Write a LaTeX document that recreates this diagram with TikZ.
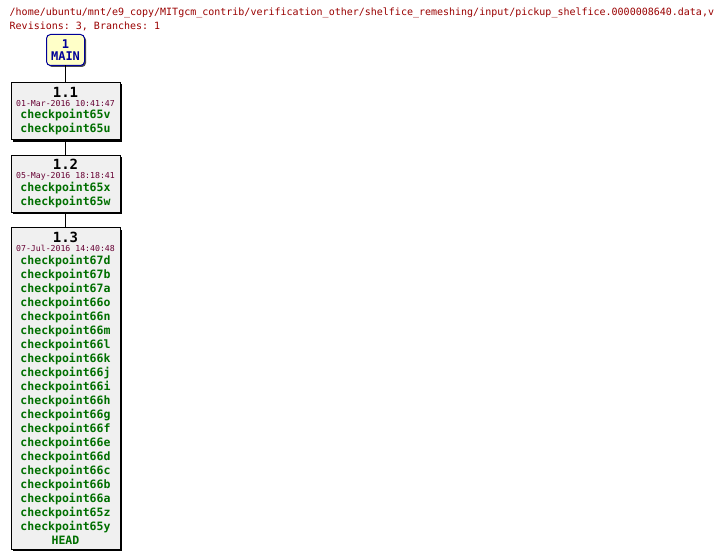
\documentclass[tikz,border=0pt]{standalone}
\usepackage{fontspec}
\setmonofont{DejaVu Sans Mono}
\usetikzlibrary{positioning}
\usetikzlibrary{shadows}

\definecolor{hdrred}{HTML}{990000}
\definecolor{datered}{HTML}{660033}
\definecolor{taggreen}{HTML}{006F00}
\definecolor{revgray}{HTML}{F0F0F0}
\definecolor{mainfill}{HTML}{FFFFC8}
\definecolor{mainblue}{HTML}{000099}

\newcommand{\revnum}[1]{{\bfseries\fontsize{14}{14}\selectfont #1}}
\newcommand{\revdate}[1]{{\fontsize{8.2}{8.2}\selectfont\color{datered}#1}}
\newcommand{\tagname}[1]{{\bfseries\color{taggreen}#1}}

\begin{document}
\begin{tikzpicture}[
      x=1pt, y=-1pt,
      node distance=15.5pt,
      revnode/.style={draw,fill=revgray,line width=1pt,minimum width=109pt,inner sep=0pt,outer sep=0pt,align=center,
        font=\ttfamily\fontsize{11.5}{14}\selectfont,
        drop shadow={shadow xshift=2pt,shadow yshift=-2pt,fill=black,opacity=1}},
      mainnode/.style={draw=mainblue,fill=mainfill,line width=1pt,rounded corners=4pt,minimum width=38pt,
        minimum height=31pt,inner sep=0pt,outer sep=0pt,align=center,text=mainblue,
        font=\ttfamily\bfseries\fontsize{12}{11.4}\selectfont,
        drop shadow={shadow xshift=1.5pt,shadow yshift=-1.5pt,fill=black!70,opacity=1}},
      hdrnode/.style={anchor=base west,inner sep=0pt,text=hdrred,font=\ttfamily\fontsize{10}{10}\selectfont},
      link/.style={line width=1pt}
      ]
      \useasboundingbox (0,0) rectangle (722,559);

      \node[hdrnode] (path) at (9.5,16) {/home/ubuntu/mnt/e9\_copy/MITgcm\_contrib/verification\_other/shelfice\_remeshing/input/pickup\_shelfice.0000008640.data,v};
      \node[hdrnode] (revs) at (9.5,29.3) {Revisions: 3, Branches: 1};

      \node[mainnode] (main) at (65.5,50) {1\\MAIN};
      \node[revnode, minimum height=57pt, below=17pt of main] (r11) {\revnum{1.1}\\[-5pt]
        \revdate{01-Mar-2016 10:41:47}\\[-1.5pt]
        \tagname{checkpoint65v}\\
        \tagname{checkpoint65u}};
      \node[revnode, minimum height=57pt, below=of r11] (r12) {\revnum{1.2}\\[-5pt]
        \revdate{05-May-2016 18:18:41}\\[-1.5pt]
        \tagname{checkpoint65x}\\
        \tagname{checkpoint65w}};
      \node[revnode, minimum height=321.5pt, below=of r12] (r13) {\revnum{1.3}\\[-5pt]
        \revdate{07-Jul-2016 14:40:48}\\[-1.5pt]
        \tagname{checkpoint67d}\\
        \tagname{checkpoint67b}\\
        \tagname{checkpoint67a}\\
        \tagname{checkpoint66o}\\
        \tagname{checkpoint66n}\\
        \tagname{checkpoint66m}\\
        \tagname{checkpoint66l}\\
        \tagname{checkpoint66k}\\
        \tagname{checkpoint66j}\\
        \tagname{checkpoint66i}\\
        \tagname{checkpoint66h}\\
        \tagname{checkpoint66g}\\
        \tagname{checkpoint66f}\\
        \tagname{checkpoint66e}\\
        \tagname{checkpoint66d}\\
        \tagname{checkpoint66c}\\
        \tagname{checkpoint66b}\\
        \tagname{checkpoint66a}\\
        \tagname{checkpoint65z}\\
        \tagname{checkpoint65y}\\
        \tagname{HEAD}};

      \path (main) edge[link] (r11)
      (r11) edge[link] (r12)
      (r12) edge[link] (r13)
      ;
\end{tikzpicture}
\end{document}
